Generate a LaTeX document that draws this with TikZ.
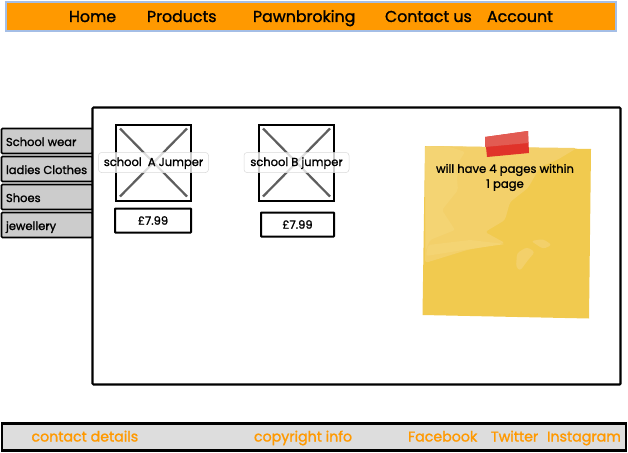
\documentclass[tikz,border=0pt]{standalone}
\usepackage{fontspec}
\setmainfont{Poppins}[RawFeature={embolden=1.4}]
\usetikzlibrary{positioning}
\definecolor{navorange}{HTML}{FF9900}
\definecolor{navblue}{HTML}{A4BEE6}
\definecolor{tabgrey}{HTML}{CCCCCC}
\definecolor{footgrey}{HTML}{DDDDDD}
\definecolor{crossgrey}{HTML}{5E5E5E}
\definecolor{notepale}{HTML}{F4D473}
\definecolor{notelight}{HTML}{F3D06A}
\definecolor{notedark}{HTML}{F1CA4F}
\definecolor{taped}{HTML}{E0332A}
\definecolor{tapel}{HTML}{E25B52}
\tikzset{
  every node/.style={outer sep=0pt},
  navlabel/.style={font=\fontsize{15.8}{18}\selectfont,text=black,anchor=base west,inner sep=0pt},
  tabbox/.style={draw=black,line width=1.7pt,fill=tabgrey,rounded corners=1pt,minimum width=91pt,minimum height=25pt,
    anchor=north west,inner sep=0pt},
  tablabel/.style={font=\fontsize{11.5}{13}\selectfont,anchor=base west,inner sep=0pt},
  imgbox/.style={draw=black,line width=2pt,fill=white,minimum width=75pt,minimum height=76pt,anchor=north west,inner sep=0pt},
  cross/.style={draw=crossgrey,line width=2.2pt},
  captionbox/.style={draw=black!15,fill=white,fill opacity=.8,text opacity=1,rounded corners=3pt,line width=.5pt,
    font=\fontsize{11.5}{13}\selectfont,minimum height=20pt,inner sep=0pt,anchor=center},
  pricebox/.style={draw=black,line width=2pt,fill=white,rounded corners=.5pt,minimum width=76pt,minimum height=24pt,
    font=\fontsize{11.5}{13}\selectfont,inner sep=0pt,anchor=center},
  footlabel/.style={font=\fontsize{14.2}{16}\selectfont,text=navorange,anchor=base west,inner sep=0pt},
}
\begin{document}
\begin{tikzpicture}[x=1pt,y=-1pt]
  \useasboundingbox (0,0) rectangle (628,452);
  % top bar
  \node[draw=navblue,line width=2pt,fill=navorange,minimum width=610pt,minimum height=29pt,inner sep=0pt,anchor=north west]
    (navbar) at (6,2) {};
  \node[navlabel] (home) at (69,22) {Home};
  \node[navlabel] (products) at (147,22) {Products};
  \node[navlabel] (pawn) at (253,22) {Pawnbroking};
  \node[navlabel] (contact) at (385,22) {Contact us};
  \node[navlabel] (account) at (487,22) {Account};

  % side tabs
  \node[tabbox] (wear) at (1.5,128.5) {};
  \node[tabbox] (clothes) at (1.5,156.5) {};
  \node[tabbox] (shoes) at (1.5,184.5) {};
  \node[tabbox] (jewel) at (1.5,212.5) {};
  \node[tablabel] at (6,146) {School wear};
  \node[tablabel] at (6,174) {ladies Clothes};
  \node[tablabel] at (6,202) {Shoes};
  \node[tablabel] at (6,230) {jewellery};

  % main panel
  \node[draw=black,line width=2.1pt,fill=white,minimum width=528pt,minimum height=277pt,inner sep=0pt,anchor=north west,
    rounded corners=1pt] (panel) at (92.5,107.5) {};

  % products
  \node[imgbox] (imga) at (116,124.5) {};
  \draw[cross] ([shift={(4,4)}]imga.north west) -- ([shift={(-4,-4)}]imga.south east);
  \draw[cross] ([shift={(-4,4)}]imga.north east) -- ([shift={(4,-4)}]imga.south west);
  \node[captionbox,minimum width=110pt,text height=8.5pt,text depth=1.5pt] (capa) at (153.5,162.5) {school\ \ A Jumper};
  \node[pricebox] (pricea) at (153,220.5) {£7.99};

  \node[imgbox] (imgb) at (259,124.5) {};
  \draw[cross] ([shift={(4,4)}]imgb.north west) -- ([shift={(-4,-4)}]imgb.south east);
  \draw[cross] ([shift={(-4,4)}]imgb.north east) -- ([shift={(4,-4)}]imgb.south west);
  \node[captionbox,minimum width=105pt,text height=8.5pt,text depth=1.5pt] (capb) at (296.5,162.5) {school B jumper};
  \node[pricebox,minimum width=73pt] (priceb) at (297.5,224.5) {£7.99};

  % sticky note
  \fill[notedark] (425,146) -- (591,149) -- (589,318.5) -- (422.5,315) -- cycle;
  \fill[notelight,rounded corners=3pt] (425,146) -- (577,148) -- (557,160) -- (540,167) -- (528,188) -- (510,202)
    -- (505,220) -- (485,232) -- (505,243) -- (467,250) -- (425,263) -- cycle;
  \fill[notepale,rounded corners=2pt] (425,146) -- (450,147) -- (465,152) -- (456,166) -- (458,190) -- (442,210)
    -- (455,230) -- (430,240) -- (426,250) -- cycle;
  \fill[notepale,rounded corners=2pt] (428,245) -- (470,240) -- (505,244) -- (470,249) -- (426,256) -- cycle;
  \fill[notelight,rounded corners=3pt] (535,252) -- (527,247) -- (517,253) -- (516,267) -- (520,271) -- (528,260) -- cycle;
  \fill[notelight,rounded corners=3pt] (531,241) -- (543,239) -- (552,245) -- (543,249) -- cycle;
  \fill[taped] (485,137) -- (528,131) -- (529,153) -- (487,157) -- cycle;
  \fill[tapel] (485,137) -- (528,131) -- (528,143) -- (485,147) -- cycle;
  \node[font=\fontsize{11.6}{15}\selectfont,align=center,inner sep=0pt] (note) at (505,177.5) {will have 4 pages within\\1 page};

  % footer
  \node[draw=black,line width=2.1pt,fill=footgrey,minimum width=624pt,minimum height=27pt,inner sep=0pt,anchor=north west]
    (footer) at (2,423.5) {};
  \node[footlabel] (details) at (31.5,441.5) {contact details};
  \node[footlabel] (copy) at (254,441.5) {copyright info};
  \node[footlabel] (face) at (408,441.5) {Facebook};
  \node[footlabel] (twit) at (491,441.5) {Twitter};
  \node[footlabel] (insta) at (547,441.5) {Instagram};
\end{tikzpicture}
\end{document}
